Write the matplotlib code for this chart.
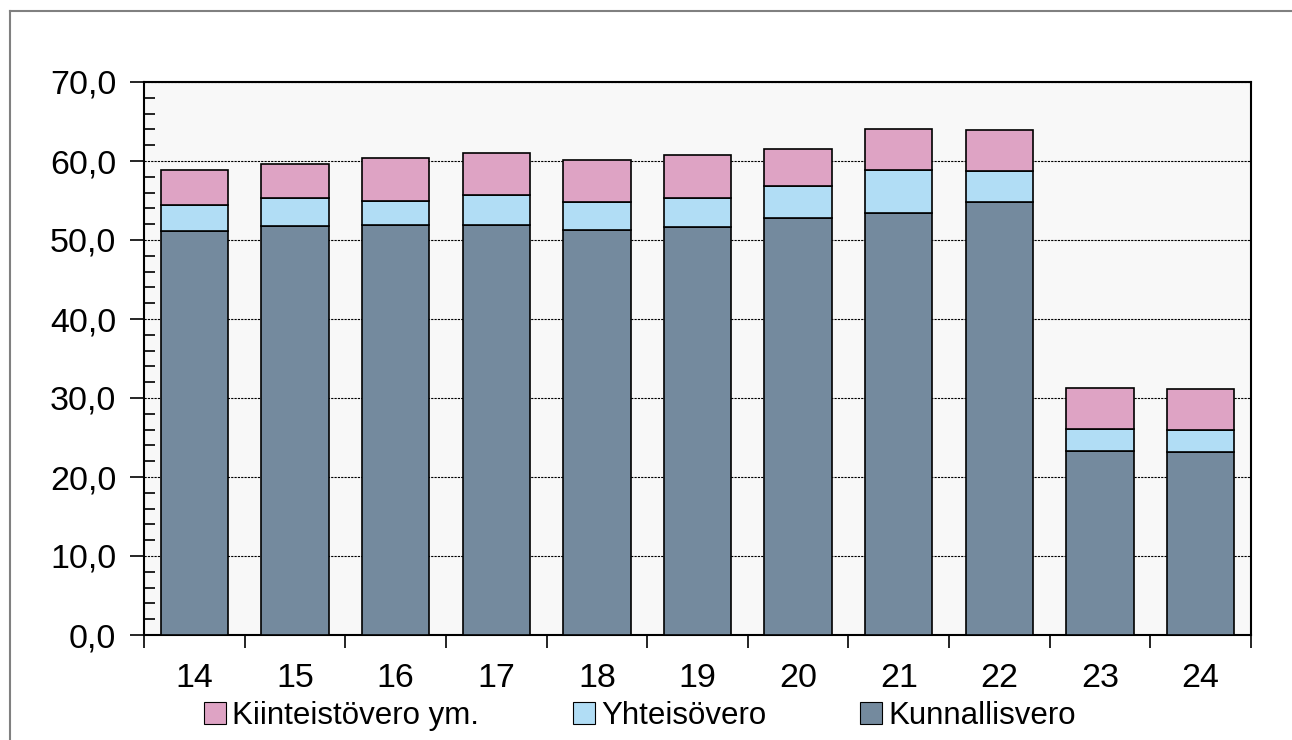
import matplotlib
matplotlib.use("Agg")
import matplotlib.pyplot as plt
import numpy as np
from matplotlib.ticker import MultipleLocator, FuncFormatter
from matplotlib.patches import Patch
from matplotlib.lines import Line2D

plt.rcParams['font.family'] = ['Liberation Sans', 'DejaVu Sans']

categories = ["14", "15", "16", "17", "18", "19", "20", "21", "22", "23", "24"]
kunnallisvero = [51.1, 51.8, 51.9, 51.9, 51.3, 51.6, 52.8, 53.4, 54.8, 23.3, 23.2]
yhteisovero = [3.3, 3.5, 3.0, 3.8, 3.5, 3.7, 4.0, 5.5, 3.9, 2.8, 2.7]
kiinteistovero = [4.5, 4.3, 5.5, 5.3, 5.3, 5.5, 4.7, 5.2, 5.2, 5.2, 5.2]

c_kun = "#748a9e"
c_yht = "#b1ddf5"
c_kii = "#dea3c4"

W, H = 1292, 740
fig = plt.figure(figsize=(W / 100, H / 100), dpi=100)
fig.patch.set_facecolor("white")

# outer border (top and left)
fig.add_artist(Line2D([10 / W, 1.0], [1 - 11 / H, 1 - 11 / H], color="#808080", lw=1.5))
fig.add_artist(Line2D([10 / W, 10 / W], [0, 1 - 11 / H], color="#808080", lw=1.5))

left, right, top, bottom = 144, 1251, 82, 635
ax = fig.add_axes([left / W, 1 - bottom / H, (right - left) / W, (bottom - top) / H])
ax.set_facecolor("#f8f8f8")

x = np.arange(len(categories))
k = np.array(kunnallisvero)
y = np.array(yhteisovero)
ki = np.array(kiinteistovero)
bw = 0.67
ax.bar(x, k, bw, color=c_kun, edgecolor="black", linewidth=1.2, zorder=3)
ax.bar(x, y, bw, bottom=k, color=c_yht, edgecolor="black", linewidth=1.2, zorder=3)
ax.bar(x, ki, bw, bottom=k + y, color=c_kii, edgecolor="black", linewidth=1.2, zorder=3)

ax.set_xlim(-0.5, len(categories) - 0.5)
ax.set_ylim(0, 70)
ax.yaxis.set_major_locator(MultipleLocator(10))
ax.yaxis.set_minor_locator(MultipleLocator(2))
ax.yaxis.set_major_formatter(FuncFormatter(lambda v, p: f"{v:.1f}".replace(".", ",")))
ax.grid(axis="y", which="major", color="black", linestyle=(0, (2, 1)), linewidth=0.8, zorder=1)

ax.set_xticks(x)
ax.set_xticklabels(categories)
ax.set_xticks(np.arange(len(categories) + 1) - 0.5, minor=True)
ax.tick_params(axis="x", which="major", length=0, labelsize=24.5, pad=20)
ax.tick_params(axis="x", which="minor", length=9, width=1.2, direction="out", color="black")
ax.tick_params(axis="y", which="major", length=10, width=1.2, direction="out", labelsize=24.5, pad=10)
ax.tick_params(axis="y", which="minor", length=8, width=1.2, direction="in", left=True)

for s in ax.spines.values():
    s.set_linewidth(1.5)
    s.set_color("black")

handles = [Patch(facecolor=c_kii, edgecolor="black", linewidth=0.8, label="Kiinteistövero ym."),
           Patch(facecolor=c_yht, edgecolor="black", linewidth=0.8, label="Yhteisövero"),
           Patch(facecolor=c_kun, edgecolor="black", linewidth=0.8, label="Kunnallisvero")]
leg = fig.legend(handles=handles, loc="center", bbox_to_anchor=(640 / W, 1 - 716 / H), ncol=3,
                 frameon=False, fontsize=22.5, handlelength=0.7, handleheight=0.7,
                 handletextpad=0.2, columnspacing=3.0, borderaxespad=0, borderpad=0)

fig.savefig("out.png", dpi=100)
